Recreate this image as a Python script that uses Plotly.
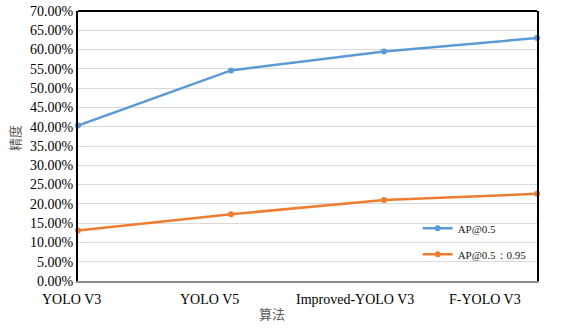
import plotly.graph_objects as go

categories = ["YOLO V3", "YOLO V5", "Improved-YOLO V3", "F-YOLO V3"]
ap50 = [0.403, 0.546, 0.595, 0.630]
ap50_95 = [0.131, 0.173, 0.210, 0.226]
series_names = ["AP@0.5", "AP@0.5：0.95"]
y_ticks = [i * 0.05 for i in range(15)]
y_ticktext = ["%.2f%%" % (v * 100) for v in y_ticks]
label_offsets = [-0.04, -0.14, -0.19, -0.34]

x_idx = list(range(len(categories)))
n_span = len(categories) - 1
label_pos = [(i + o) / n_span for i, o in zip(x_idx, label_offsets)]

serif = "Liberation Serif, Times New Roman, serif"

fig = go.Figure()
fig.add_trace(go.Scatter(
    x=x_idx, y=ap50, name=series_names[0], mode="lines+markers",
    line=dict(color="#5b9bd5", width=2.5), marker=dict(size=6, color="#5b9bd5"),
    cliponaxis=False, legendgroup="a"))
fig.add_trace(go.Scatter(
    x=x_idx, y=ap50_95, name=series_names[1], mode="lines+markers",
    line=dict(color="#ed7d31", width=2.5), marker=dict(size=6, color="#ed7d31"),
    cliponaxis=False, legendgroup="b"))

fig.update_layout(
    width=571, height=329,
    margin=dict(l=78, r=34, t=11, b=48, autoexpand=False),
    paper_bgcolor="white", plot_bgcolor="white",
    font=dict(family=serif, size=14, color="black"),
    showlegend=True,
    legend=dict(x=0.74, y=0.147, xanchor="left", yanchor="middle",
                font=dict(family=serif, size=11, color="#222"),
                bgcolor="rgba(0,0,0,0)", traceorder="grouped", tracegroupgap=7,
                itemwidth=30),
    xaxis=dict(range=[0, n_span], showticklabels=False, automargin=False,
               showgrid=False, zeroline=False, showline=True,
               linecolor="#8c8c8c", linewidth=2, ticks=""),
    yaxis=dict(range=[0, 0.70], tickvals=y_ticks, ticktext=y_ticktext,
               automargin=False,
               showgrid=True, gridcolor="#d9d9d9", gridwidth=1,
               zeroline=False, showline=True, linecolor="black", linewidth=2,
               mirror=True, ticks="",
               tickfont=dict(family=serif, size=14, color="black")),
)

# top border
fig.add_shape(type="line", xref="paper", yref="paper", x0=0, x1=1, y0=1, y1=1,
              line=dict(color="black", width=2))

for pos, name in zip(label_pos, categories):
    fig.add_annotation(text=name, xref="paper", yref="paper", x=pos, y=-0.07,
                       xanchor="center", yanchor="middle", showarrow=False,
                       font=dict(family=serif, size=14, color="black"))

fig.add_annotation(text="算法", xref="paper", yref="paper", x=0.423, y=-0.119,
                   xanchor="center", yanchor="middle", showarrow=False,
                   font=dict(family="Noto Sans CJK SC", size=13, color="#595959"))
fig.add_annotation(text="精度", xref="paper", yref="paper", x=-0.137, y=0.53,
                   xanchor="center", yanchor="middle", showarrow=False, textangle=-90,
                   font=dict(family="Noto Sans CJK SC", size=13, color="#595959"))

fig.write_html("out.html", config={"displayModeBar": False},
               post_script="document.body.style.margin='0px';document.body.style.overflow='hidden';")
